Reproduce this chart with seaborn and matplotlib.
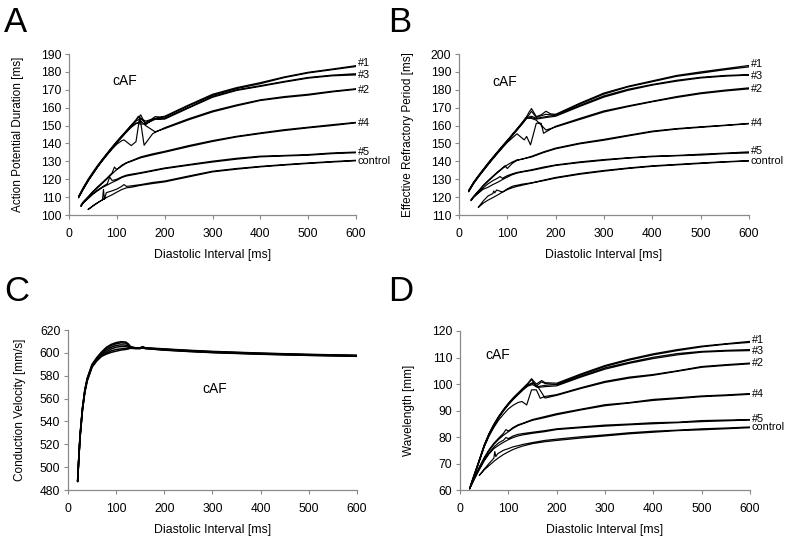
import matplotlib
matplotlib.use("Agg")
import matplotlib.pyplot as plt
import seaborn as sns

# ---- shared diastolic-interval grids [ms] ----
TOP_FWD_DI = [20, 30, 40, 50, 60, 70, 80, 90, 100, 110, 120, 130, 140, 145, 150,
              160, 170, 180, 190, 200, 250, 300, 350, 400, 450, 500, 550, 600]
TOP_BACK_DI = [600, 550, 500, 450, 400, 350, 300, 250, 200, 180, 160, 150, 140,
               130, 120, 110, 100, 90, 80, 70, 60, 50, 40, 30, 20]
MID_FWD_DI = [25, 30, 40, 50, 60, 70, 80, 85, 90, 95, 100, 110, 120, 130, 150,
              175, 200, 250, 300, 350, 400, 450, 500, 550, 600]
MID_BACK_DI = [600, 550, 500, 450, 400, 350, 300, 250, 200, 175, 150, 130, 120,
               110, 100, 90, 80, 70, 60, 50, 40, 30, 25]
CTRL_FWD_DI = [40, 50, 60, 70, 72, 74, 78, 90, 100, 110, 115, 120, 130, 150, 175,
               200, 250, 300, 350, 400, 450, 500, 550, 600]
CTRL_BACK_DI = [600, 550, 500, 450, 400, 350, 300, 250, 200, 175, 150, 130, 120,
                110, 100, 90, 80, 70, 60, 50, 40]

SERIES = ["#1", "#3", "#2", "#4", "#5", "control"]

# ---- A: action potential duration [ms] ----
APD_1_FWD = [110.5, 115.5, 120, 124, 127.8, 131.3, 134.7, 138, 141.2, 144.2, 147.2, 150.2, 153.2, 155.2,
             153.8, 151.5, 153, 155, 154.8, 155.2, 161.5, 167.5, 171.2, 174, 177.2, 179.8, 181.6, 183.5]
APD_1_BACK = [183, 181.2, 179.4, 176.8, 173.4, 170.6, 166.8, 161, 154.8, 154, 152.5, 154, 152.5,
              149.8, 146.8, 143.8, 140.8, 137.6, 134.3, 130.9, 127.3, 123.4, 119.4, 114.8, 109.8]
APD_3_FWD = [110.2, 115.2, 119.7, 123.7, 127.5, 131, 134.4, 137.8, 141, 144, 147, 150, 153, 154.5,
             156, 150.5, 152.5, 154, 153.8, 154.2, 160.2, 166.3, 170, 172.3, 174.7, 176.9, 178.2, 179]
APD_3_BACK = [178.3, 177.8, 176.5, 174.3, 171.9, 169.6, 165.8, 159.8, 153.6, 153.5, 151, 150.8, 151.5,
              149.5, 146.5, 143.5, 140.5, 137.3, 134, 130.6, 127, 123, 119, 114.5, 109.6]
APD_2_FWD_DI = [20, 30, 40, 50, 60, 70, 80, 90, 100, 110, 115, 130, 140, 148, 157, 175, 200,
                250, 300, 350, 400, 450, 500, 550, 600]
APD_2_FWD = [110, 114.8, 119.3, 123.2, 127, 130.4, 133.7, 136.8, 139.6, 141.5, 142, 138.8, 141,
             155, 139, 145.5, 148.8, 153.8, 158.2, 161.5, 164.4, 166.2, 167.5, 169.2, 170.6]
APD_2_BACK = [170.2, 168.8, 167, 165.7, 164, 161, 157.6, 153.2, 148.3, 146.5, 150, 152.5, 151,
              149, 146.3, 143.3, 140.4, 137.3, 134, 130.6, 127, 123, 119, 114.5, 109.8]
APD_4_FWD = [105.5, 107.5, 110.3, 113.2, 115.8, 118.3, 120.8, 122.2, 123.5, 126.8, 125.3, 127.8, 129.3,
             130.3, 132.5, 134.2, 135.6, 138.8, 141.6, 144, 145.9, 147.7, 149.1, 150.5, 151.8]
APD_4_BACK = [151.5, 150, 148.7, 147.2, 145.5, 143.6, 141.1, 138.2, 135.1, 133.6, 132, 130, 129,
              127.3, 125.5, 123, 120.3, 117.8, 115.3, 112.7, 109.8, 107, 105.2]
APD_5_FWD = [105, 107, 109.5, 112, 114, 115.8, 117.5, 121.2, 119.3, 119.6, 120, 121.3, 122.3,
             122.8, 123.7, 125, 126.3, 128.2, 130.1, 131.7, 132.9, 133.3, 133.8, 134.7, 135.2]
APD_5_BACK = [134.8, 134.3, 133.4, 133, 132.5, 131.2, 129.6, 127.8, 125.9, 124.6, 123.3, 122.3, 121.8,
              120.9, 119.4, 118.2, 116.8, 115.4, 113.6, 111.6, 109.2, 106.8, 104.8]
APD_C_FWD = [103.2, 105.2, 107, 108.5, 114.3, 108.7, 112.5, 113.5, 114.5, 116, 117, 116, 116.3,
             117, 118.2, 119, 121.8, 124.5, 126, 127.2, 128.2, 129.1, 129.9, 130.6]
APD_C_BACK = [130.3, 129.6, 128.8, 127.9, 126.9, 125.6, 124.1, 121.3, 118.5, 117.6, 116.6, 115.5,
              115.2, 114.2, 112.8, 111.3, 110, 108.5, 106.8, 105, 103]
APD_LABEL_Y = [184.9, 178.4, 169.8, 151.3, 135.5, 130.4]

# ---- B: effective refractory period [ms] ----
ERP_1_FWD = [123.8, 128.3, 132, 135.5, 139, 142.3, 145.5, 148.7, 151.8, 155, 158.2, 161.5, 165, 167.5,
             169.5, 165, 166, 168, 166.5, 166.3, 172.5, 178.2, 182, 185, 188, 190, 191.8, 193.6]
ERP_1_BACK = [192.8, 191.2, 189.3, 187.5, 184.5, 181.6, 177.6, 172, 165.8, 165, 164, 165.2, 164.5,
              161, 157.8, 154.6, 151.4, 148.3, 145.1, 141.9, 138.6, 135.1, 131.6, 127.8, 123.3]
ERP_3_FWD = [123.5, 128, 131.7, 135.2, 138.7, 142, 145.2, 148.4, 151.5, 154.7, 157.9, 161.2, 164.6, 166,
             168, 164.5, 165.5, 166.3, 166, 166, 171.3, 176.6, 180.3, 183, 185.3, 187, 188, 188.5]
ERP_3_BACK = [188.2, 187.6, 186.6, 184.8, 182.6, 179.7, 175.9, 170.7, 165.2, 164.5, 163.6, 164.5, 164,
              160.6, 157.4, 154.2, 151, 147.9, 144.8, 141.6, 138.3, 134.8, 131.3, 127.5, 123]
ERP_2_FWD_DI = [20, 30, 40, 50, 60, 70, 80, 90, 100, 110, 120, 135, 140, 148, 160, 170, 175, 200,
                250, 300, 350, 400, 450, 500, 550, 600]
ERP_2_FWD = [123.2, 127.6, 131.2, 134.6, 138, 141.3, 144.5, 147.6, 150.6, 153, 155.4, 152, 153.9,
             149.2, 161.3, 161.3, 155.7, 159.6, 164, 168.2, 171, 173.6, 176.2, 178.3, 179.8, 181.1]
ERP_2_BACK = [180.5, 179.3, 177.8, 175.7, 173.3, 170.6, 167.6, 163.4, 159.2, 157.5, 163, 164, 164.2,
              160.8, 157.6, 154.4, 151.2, 148.1, 144.9, 141.7, 138.4, 134.9, 131.4, 127.6, 123.1]
ERP_4_FWD = [118.5, 120.3, 123.4, 126.5, 129.2, 131.7, 134.1, 135.2, 136.3, 137.5, 136, 138.8, 140.5,
             141.2, 142.8, 145.3, 147.4, 150.2, 152.3, 154.6, 156.9, 158.3, 159.3, 160.2, 161.2]
ERP_4_BACK = [161, 160, 159, 158, 156.5, 154.2, 151.8, 149.8, 147, 144.9, 142.4, 141.2, 140.8,
              139.6, 138, 136, 133.7, 131.3, 128.8, 126.2, 123.2, 120.1, 118.3]
ERP_5_FWD = [118.3, 120, 122.6, 125.2, 127.4, 129.2, 130.6, 131.5, 130.5, 131.3, 132, 133, 133.8,
             134.3, 135.3, 136.8, 138, 139.7, 141, 142, 142.9, 143.3, 144, 144.6, 145.3]
ERP_5_BACK = [144.7, 144.3, 143.5, 143.1, 142.6, 141.8, 140.6, 139.3, 137.7, 136.3, 134.9, 134, 133.4,
              132.5, 131.2, 129.8, 128.3, 127, 125.5, 124.4, 122.2, 119.8, 118]
ERP_C_FWD = [114.3, 117.8, 120.6, 122, 123.4, 122.4, 124, 122.8, 124.6, 126, 126.4, 126.6, 127.2,
             128, 129.5, 131, 133.2, 134.9, 136.3, 137.5, 138.3, 139.1, 139.8, 140.4]
ERP_C_BACK = [140.2, 139.6, 138.8, 138, 137.2, 136, 134.5, 132.8, 130.6, 129.2, 127.8, 126.6, 126,
              125.2, 124.2, 122.8, 121.2, 119.7, 118.3, 116.6, 114.2]
ERP_LABEL_Y = [194.2, 187.9, 180.4, 161.3, 145.6, 140.2]

# ---- C: conduction velocity [mm/s] ----
CV_DI = [20, 22, 25, 30, 35, 40, 50, 60, 70, 80, 90, 100, 110, 120, 125, 130, 140, 150, 155, 160,
         200, 250, 300, 400, 500, 600]
CV_1 = [487.5, 505, 528, 552, 568, 578, 590, 596, 601, 605, 607.5, 609, 609.8, 609.5, 608, 605.5,
        604.5, 604.5, 605.5, 604.5, 603.5, 602.3, 601.3, 599.8, 598.7, 597.9]
CV_2 = [487.5, 505, 527.5, 551.5, 567.5, 577.5, 589.5, 595.5, 600, 604, 606.5, 608, 608.8, 608.5, 607,
        605, 604.3, 604.4, 605.3, 604.3, 603.2, 602, 601, 599.6, 598.5, 597.7]
CV_3 = [487.5, 504.5, 527, 551, 567, 577, 589, 595, 599.5, 602.5, 605, 606.5, 607, 606.8, 606, 604.8,
        604.2, 604.2, 605, 604.1, 603, 601.8, 600.8, 599.4, 598.3, 597.5]
CV_4 = [487.5, 504.5, 526.5, 550.5, 566.5, 576.5, 588.5, 594.5, 598.5, 601, 603.5, 605, 605.5, 605.5,
        605, 604.5, 604, 604, 604.8, 604, 602.8, 601.6, 600.6, 599.2, 598.1, 597.4]
CV_5 = [487.5, 504, 526, 550, 566, 576, 588, 594, 597.8, 599.8, 601.8, 603, 603.5, 603.8, 604, 604.2,
        603.9, 603.9, 604.6, 603.9, 602.6, 601.4, 600.4, 599, 597.9, 597.2]
CV_6 = [487.5, 504, 525.5, 549.5, 565.5, 575.5, 587.5, 593, 597, 599, 600.5, 601.5, 602.5, 603, 603.5,
        604, 603.8, 603.8, 604.4, 603.8, 602.4, 601.2, 600.2, 598.8, 597.8, 597]

# ---- D: wavelength [mm] ----
D_TOP_FWD_DI = [20, 25, 30, 40, 50, 60, 70, 80, 90, 100, 110, 120, 130, 140, 148, 158, 169, 176,
                200, 250, 300, 350, 400, 450, 500, 550, 600]
D_TOP_BACK_DI = [600, 550, 500, 450, 400, 350, 300, 250, 200, 176, 160, 150, 140, 130, 120, 110,
                 100, 90, 80, 70, 60, 50, 40, 30, 25, 20]
D_MID_FWD_DI = [20, 25, 30, 40, 50, 60, 70, 80, 90, 95, 100, 110, 120, 130, 150, 175, 200, 250,
                300, 350, 400, 450, 500, 550, 600]
D_MID_BACK_DI = [600, 550, 500, 450, 400, 350, 300, 250, 200, 175, 150, 130, 120, 110, 100, 90,
                 80, 70, 60, 50, 40, 30, 25, 20]
WL_1_FWD = [60.6, 63.5, 66.2, 71.5, 77, 81.3, 84.8, 87.8, 90.4, 92.7, 94.8, 96.6, 98.4, 100.2, 102,
            100, 101.3, 100.5, 100.3, 103.8, 107, 109.4, 111.4, 113, 114.3, 115.2, 116.1]
WL_1_BACK = [115.7, 115, 114, 112.6, 111, 109, 106.6, 103.4, 99.8, 99.5, 99, 100.5, 99.6, 98, 96.2,
             94.4, 92.4, 90.1, 87.5, 84.5, 81, 76.7, 71.2, 65.9, 63.2, 60.5]
WL_3_FWD = [60.6, 63.4, 66, 71.3, 76.8, 81.1, 84.6, 87.6, 90.2, 92.5, 94.6, 96.4, 98.2, 100, 101.6,
            99.3, 100.8, 100.2, 99.8, 103, 106.1, 108.2, 110.1, 111.5, 112.3, 112.7, 113]
WL_3_BACK = [112.6, 112.4, 112, 111, 109.6, 107.8, 105.6, 102.6, 99.3, 99, 98.7, 99.8, 99.2, 97.7, 96,
             94.2, 92.2, 89.9, 87.3, 84.3, 80.8, 76.5, 71, 65.7, 63, 60.4]
WL_2_FWD_DI = [20, 25, 30, 40, 50, 60, 70, 80, 90, 100, 110, 120, 128, 138, 148, 158, 166, 176,
               200, 250, 300, 350, 400, 450, 500, 550, 600]
WL_2_FWD = [60.5, 63.2, 65.8, 70.9, 76.2, 80.3, 83.6, 86.4, 88.6, 90.6, 92, 93, 93.4, 92.1, 97.8,
            97.8, 94.6, 95.3, 96, 98.6, 101, 102.6, 103.6, 105, 106.6, 107.3, 107.9]
WL_2_BACK = [107.6, 107, 106.3, 104.8, 103.3, 102.2, 100.6, 98.3, 95.7, 94.7, 99.3, 100.3, 99.4,
             97.8, 96, 94.2, 92.2, 89.9, 87.3, 84.3, 80.8, 76.5, 71, 65.7, 63, 60.4]
WL_4_FWD = [60.6, 62.8, 64.8, 68.7, 72.2, 75.2, 77.6, 79.6, 81.4, 82.8, 82.2, 83.6, 84.6, 85.2, 86.6,
            87.7, 88.8, 90.5, 92.2, 93, 94.2, 94.8, 95.5, 95.9, 96.4]
WL_4_BACK = [96.1, 95.6, 95.2, 94.5, 93.8, 92.8, 91.8, 90.2, 88.4, 87.3, 86.3, 85, 84.3, 83.3, 82,
             80.7, 79.1, 77.2, 74.8, 71.8, 68.4, 64.6, 62.6, 60.5]
WL_5_FWD = [60.6, 62.5, 64.4, 68, 71.3, 74, 76.2, 77.8, 78.8, 79.8, 79.4, 80.4, 81, 81.3, 81.8,
            82.4, 83.1, 83.8, 84.5, 84.9, 85.4, 85.6, 86.2, 86.4, 86.6]
WL_5_BACK = [86.4, 86.1, 85.8, 85.4, 85, 84.6, 84.1, 83.5, 82.8, 82, 81.4, 80.8, 80.4, 79.8, 79,
             78, 76.9, 75.6, 73.6, 71, 67.7, 64.2, 62.3, 60.5]
WL_C_FWD = [65.6, 67.8, 70, 72, 74.5, 72.6, 73.7, 75, 75.6, 76.3, 76.5, 76.7, 77.2, 77.9, 78.7,
            79.2, 80.1, 80.8, 81.6, 82.2, 82.6, 83.1, 83.4, 83.8]
WL_C_BACK = [83.5, 83.1, 82.7, 82.4, 81.8, 81.2, 80.4, 79.6, 78.7, 78.2, 77.5, 76.6, 76, 75.3, 74.4,
             73.4, 72.2, 70.8, 69.2, 67.6, 65.5]
WL_LABEL_Y = [116.5, 112.6, 107.8, 96.3, 86.9, 83.7]

sns.set_theme(style="ticks")
plt.rcParams["font.family"] = ["Liberation Sans", "DejaVu Sans"]
plt.rcParams["text.color"] = "black"
plt.rcParams["axes.labelcolor"] = "black"

fig = plt.figure(figsize=(7.87, 5.39), dpi=100)
GRAY = "#8a8a8a"


def style_axis(ax, ylim, ystep, ylabel, ypad):
    ax.set_xlim(0, 600)
    ax.set_ylim(*ylim)
    ax.set_xticks(range(0, 601, 100))
    ax.set_yticks(range(ylim[0], ylim[1] + 1, ystep))
    for side in ["top", "right"]:
        ax.spines[side].set_visible(False)
    for side in ["left", "bottom"]:
        ax.spines[side].set_color(GRAY)
        ax.spines[side].set_linewidth(0.9)
    ax.tick_params(axis="both", colors=GRAY, labelcolor="black", labelsize=8.7,
                   length=3, width=0.8)
    ax.tick_params(axis="x", pad=6)
    ax.tick_params(axis="y", pad=2.5)
    ax.set_xlabel("Diastolic Interval [ms]", fontsize=8.8, labelpad=7)
    ax.set_ylabel(ylabel, fontsize=8.5, labelpad=ypad)


def draw_loops(ax, loops, label_y):
    for di, vals in loops:
        sns.lineplot(x=di, y=vals, sort=False, estimator=None, color="black",
                     linewidth=0.85, ax=ax, legend=False)
    for name, y in zip(SERIES, label_y):
        ax.text(604, y, name, fontsize=7.8, ha="left", va="center", clip_on=False)


# A
axA = fig.add_axes([0.0877, 0.6011, 0.3647, 0.2987])
draw_loops(axA, [
    (TOP_FWD_DI + TOP_BACK_DI, APD_1_FWD + APD_1_BACK),
    (TOP_FWD_DI + TOP_BACK_DI, APD_3_FWD + APD_3_BACK),
    (APD_2_FWD_DI + TOP_BACK_DI, APD_2_FWD + APD_2_BACK),
    (MID_FWD_DI + MID_BACK_DI, APD_4_FWD + APD_4_BACK),
    (MID_FWD_DI + MID_BACK_DI, APD_5_FWD + APD_5_BACK),
    (CTRL_FWD_DI + CTRL_BACK_DI, APD_C_FWD + APD_C_BACK),
], APD_LABEL_Y)
style_axis(axA, (100, 190), 10, "Action Potential Duration [ms]", 12)
axA.text(90, 175, "cAF", fontsize=10, ha="left", va="center")

# B
axB = fig.add_axes([0.5832, 0.6011, 0.3685, 0.2987])
draw_loops(axB, [
    (TOP_FWD_DI + TOP_BACK_DI, ERP_1_FWD + ERP_1_BACK),
    (TOP_FWD_DI + TOP_BACK_DI, ERP_3_FWD + ERP_3_BACK),
    (ERP_2_FWD_DI + TOP_BACK_DI, ERP_2_FWD + ERP_2_BACK),
    (MID_FWD_DI + MID_BACK_DI, ERP_4_FWD + ERP_4_BACK),
    (MID_FWD_DI + MID_BACK_DI, ERP_5_FWD + ERP_5_BACK),
    (CTRL_FWD_DI + CTRL_BACK_DI, ERP_C_FWD + ERP_C_BACK),
], ERP_LABEL_Y)
style_axis(axB, (110, 200), 10, "Effective Refractory Period [ms]", 12)
axB.text(70, 184.6, "cAF", fontsize=10, ha="left", va="center")

# C
axC = fig.add_axes([0.0864, 0.0909, 0.3672, 0.2968])
for vals in [CV_1, CV_2, CV_3, CV_4, CV_5, CV_6]:
    sns.lineplot(x=CV_DI, y=vals, sort=False, estimator=None, color="black",
                 linewidth=1.1, ax=axC, legend=False)
style_axis(axC, (480, 620), 20, "Conduction Velocity [mm/s]", 10)
axC.text(280, 568, "cAF", fontsize=10, ha="left", va="center")

# D
axD = fig.add_axes([0.5845, 0.0909, 0.3685, 0.2950])
draw_loops(axD, [
    (D_TOP_FWD_DI + D_TOP_BACK_DI, WL_1_FWD + WL_1_BACK),
    (D_TOP_FWD_DI + D_TOP_BACK_DI, WL_3_FWD + WL_3_BACK),
    (WL_2_FWD_DI + D_TOP_BACK_DI, WL_2_FWD + WL_2_BACK),
    (D_MID_FWD_DI + D_MID_BACK_DI, WL_4_FWD + WL_4_BACK),
    (D_MID_FWD_DI + D_MID_BACK_DI, WL_5_FWD + WL_5_BACK),
    (CTRL_FWD_DI + CTRL_BACK_DI, WL_C_FWD + WL_C_BACK),
], WL_LABEL_Y)
style_axis(axD, (60, 120), 10, "Wavelength [mm]", 12)
axD.text(52, 111, "cAF", fontsize=10, ha="left", va="center")

# panel letters
for letter, (x, y) in zip("ABCD", [(0.005, 0.988), (0.493, 0.988), (0.005, 0.49), (0.493, 0.49)]):
    fig.text(x, y, letter, fontsize=25, ha="left", va="top")

fig.savefig("out.png", dpi=100)
